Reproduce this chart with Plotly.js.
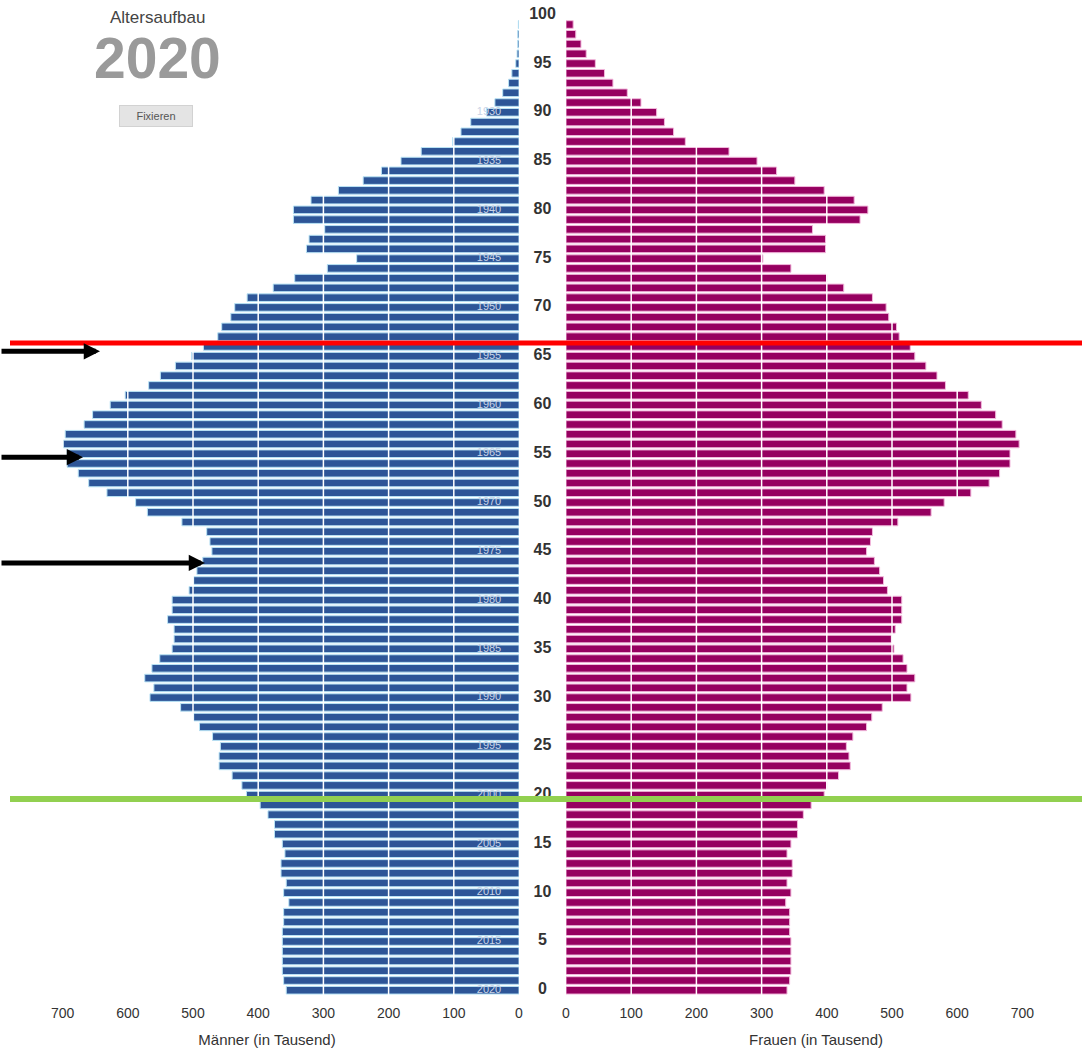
<!DOCTYPE html>
<html>
<head>
<meta charset="utf-8">
<script src="https://cdn.plot.ly/plotly-3.0.1.min.js"></script>
<style>html,body{margin:0;padding:0;background:#fff;}#chart{width:1082px;height:1052px;}</style>
</head>
<body>
<div id="chart"></div>
<script>
// Age categories (0..99)
const ages = [0,1,2,3,4,5,6,7,8,9,10,11,12,13,14,15,16,17,18,19,20,21,22,23,24,25,26,27,28,29,30,31,32,33,34,35,36,37,38,39,40,41,42,43,44,45,46,47,48,49,50,51,52,53,54,55,56,57,58,59,60,61,62,63,64,65,66,67,68,69,70,71,72,73,74,75,76,77,78,79,80,81,82,83,84,85,86,87,88,89,90,91,92,93,94,95,96,97,98,99];

// Männer (in Tausend), by age 0..99
const men = [357,361,363,363,363,363,363,361,361,353,361,357,365,365,359,363,375,375,385,397,418,425,440,460,460,458,470,490,499,519,566,560,574,563,551,532,529,529,539,532,532,506,499,494,485,471,474,479,517,570,588,632,660,676,693,693,699,696,667,654,627,604,568,550,527,502,484,462,456,442,436,417,377,344,294,249,326,322,298,346,346,319,277,239,211,181,150,102,89,74,50,37,25,16,11,5,3,2,2,1];

// Frauen (in Tausend), by age 0..99
const women = [339,343,345,345,345,345,343,343,343,337,345,339,347,347,339,345,355,355,364,376,396,400,418,436,434,430,440,461,469,485,529,523,535,523,517,503,499,505,515,515,515,493,487,481,473,461,467,470,509,560,580,621,649,665,681,681,695,690,669,659,637,617,582,569,552,535,528,511,507,495,491,470,426,400,345,302,398,398,378,451,463,442,396,351,323,293,250,183,165,151,139,115,94,72,59,45,31,23,15,11];

// Birth-year labels and their ages
const birthYears = [1930,1935,1940,1945,1950,1955,1960,1965,1970,1975,1980,1985,1990,1995,2000,2005,2010,2015,2020];
const birthYearAges = [90,85,80,75,70,65,60,55,50,45,40,35,30,25,20,15,10,5,0];

// Age tick labels (centre column)
const ageTicks = [0,5,10,15,20,25,30,35,40,45,50,55,60,65,70,75,80,85,90,95,100];

// x-axis ticks
const xTicks = [0,100,200,300,400,500,600,700];
const gridVals = [100,200,300,400,500,600,700];

// Marked ages (overlay lines and arrows)
const redLineAge = 66.35;
const greenLineAge = 19.6;
const arrowAges = [65.5, 54.65, 43.8];
const arrowTipsPx = [100, 83, 205];

const W = 1082, H = 1052;
const BLUE = '#2d5597', MAGENTA = '#960060';
const FONT = 'Liberation Sans, Arial, sans-serif';

const traces = [
  {type:'bar', orientation:'h', y:ages, x:men, xaxis:'x', yaxis:'y',
   marker:{color:BLUE, line:{color:'#b9e3f5', width:1}}, hoverinfo:'x+y', name:'Männer'},
  {type:'bar', orientation:'h', y:ages, x:women, xaxis:'x2', yaxis:'y',
   marker:{color:MAGENTA, line:{color:'#f2b8dc', width:1}}, hoverinfo:'x+y', name:'Frauen'},
  {type:'scatter', mode:'text', xaxis:'x', yaxis:'y',
   x:birthYears.map(()=>46), y:birthYearAges, text:birthYears.map(String),
   textposition:'middle center', textfont:{family:FONT, size:11, color:'#c9d3e6'}, hoverinfo:'skip'},
  {type:'scatter', mode:'text', xaxis:'x3', yaxis:'y',
   x:ageTicks.map(()=>0), y:ageTicks, text:ageTicks.map(String),
   textposition:'middle center', textfont:{family:FONT, size:16, color:'#333', weight:'bold'}, hoverinfo:'skip'}
];

const shapes = [];
gridVals.forEach(v => {
  shapes.push({type:'line', layer:'above', xref:'x', yref:'y', x0:v, x1:v, y0:-0.5, y1:99.5,
               line:{color:'#ffffff', width:1.5}});
  shapes.push({type:'line', layer:'above', xref:'x2', yref:'y', x0:v, x1:v, y0:-0.5, y1:99.5,
               line:{color:'#ffffff', width:1.5}});
});
shapes.push({type:'line', layer:'above', xref:'paper', yref:'y', x0:10/W, x1:1, y0:redLineAge, y1:redLineAge,
             line:{color:'#ff0000', width:5}});
shapes.push({type:'line', layer:'above', xref:'paper', yref:'y', x0:10/W, x1:1, y0:greenLineAge, y1:greenLineAge,
             line:{color:'#92d050', width:6}});

const annotations = [
  {xref:'paper', yref:'paper', x:157/W, y:1-13/H, text:'Altersaufbau', showarrow:false,
   font:{family:FONT, size:17, color:'#444'}, xanchor:'center', yanchor:'middle'},
  {xref:'paper', yref:'paper', x:157/W, y:1-56/H, text:'<b>2020</b>', showarrow:false,
   font:{family:FONT, size:57, color:'#9a9a9a'}, xanchor:'center', yanchor:'middle'},
  {xref:'paper', yref:'paper', x:156/W, y:1-117/H, text:'Fixieren', showarrow:false,
   font:{family:FONT, size:11, color:'#555'}, bgcolor:'#e4e4e4', bordercolor:'#d2d2d2', borderwidth:1,
   width:70, height:18, xanchor:'center', yanchor:'middle'}
];
arrowAges.forEach((a,i) => {
  annotations.push({xref:'paper', yref:'y', x:arrowTipsPx[i]/W, y:a, ax:-arrowTipsPx[i], ay:0,
    axref:'pixel', ayref:'pixel', showarrow:true, arrowhead:2, arrowwidth:5, arrowsize:0.65,
    arrowcolor:'#000', text:''});
});

const layout = {
  width:W, height:H, margin:{l:0, r:0, t:5, b:52},
  paper_bgcolor:'#fff', plot_bgcolor:'rgba(0,0,0,0)',
  showlegend:false, bargap:0.22,
  font:{family:FONT, color:'#333'},
  xaxis:{domain:[15/W, 519/W], range:[(519-15)/0.652, 0], tickvals:xTicks, ticktext:xTicks.map(String),
         showgrid:false, zeroline:false, showline:false, ticks:'', fixedrange:true, ticklabelstandoff:3,
         tickfont:{family:FONT, size:14, color:'#333'},
         title:{text:'Männer (in Tausend)', font:{family:FONT, size:15, color:'#333'}, standoff:14}},
  xaxis2:{domain:[566/W, 1066/W], range:[0, 500/0.652], tickvals:xTicks, ticktext:xTicks.map(String),
         showgrid:false, zeroline:false, showline:false, ticks:'', anchor:'y', fixedrange:true, ticklabelstandoff:3,
         tickfont:{family:FONT, size:14, color:'#333'},
         title:{text:'Frauen (in Tausend)', font:{family:FONT, size:15, color:'#333'}, standoff:14}},
  xaxis3:{domain:[519/W, 566/W], range:[-1,1], visible:false, anchor:'y', fixedrange:true},
  yaxis:{range:[-1, 101], visible:false, fixedrange:true, anchor:'x'},
  shapes:shapes, annotations:annotations
};

Plotly.newPlot('chart', traces, layout, {displayModeBar:false, staticPlot:true});
</script>
</body>
</html>
